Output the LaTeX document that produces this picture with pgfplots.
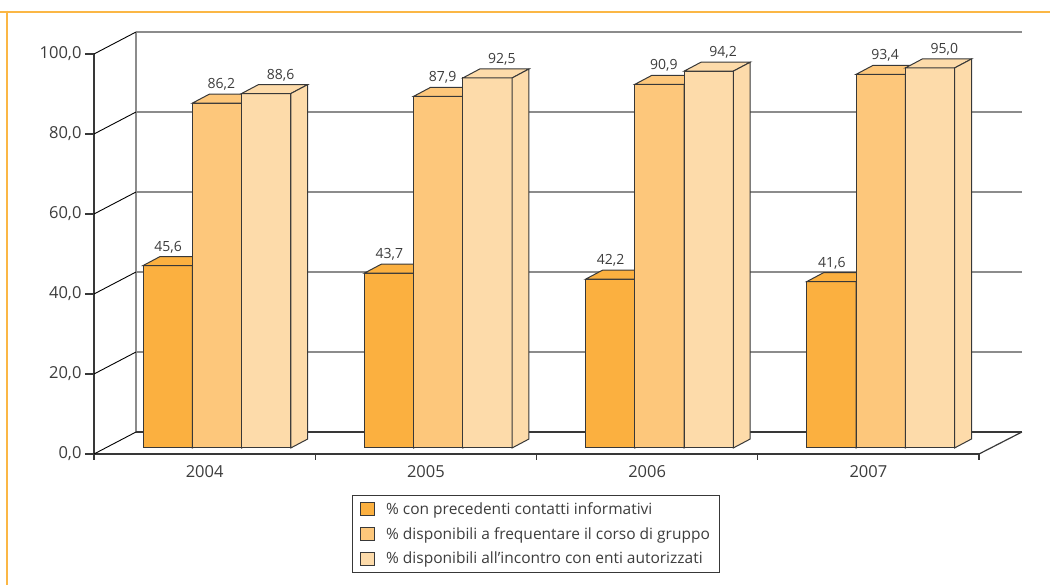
\documentclass[border=0pt]{standalone}
\usepackage{pgfplots}
\pgfplotsset{compat=1.18}
\usepackage{fontspec}
\setmainfont{Open Sans}
\definecolor{bar0}{HTML}{FBB040}
\definecolor{bar1}{HTML}{FDC77B}
\definecolor{bar2}{HTML}{FDDBAA}
\definecolor{edge}{HTML}{383838}
\definecolor{framec}{HTML}{FBB745}
\definecolor{txt}{HTML}{3C3C3C}
\definecolor{gridc}{HTML}{8C8C8C}

% #1 group index, #2 series index, #3 value, #4 label x offset
\newcommand{\tdbar}[4]{%
 \pgfmathsetmacro\xa{#1+0.2215+0.2226*#2}%
 \pgfmathsetmacro\xb{\xa+0.2226}%
 \pgfmathsetmacro\xc{\xb+0.0768}%
 \pgfmathsetmacro\xd{\xa+0.0768}%
 \pgfmathsetmacro\yb{#3+1.5}%
 \pgfmathsetmacro\yc{#3+3.75}%
 \pgfmathsetmacro\lx{\xa+0.1113+0.0384+#4}%
 \addplot[forget plot, fill=bar#2, draw=edge, line width=1pt] coordinates {(\xa,1.5) (\xb,1.5) (\xb,\yb) (\xa,\yb)} -- cycle;
 \addplot[forget plot, fill=bar#2, draw=edge, line width=1pt] coordinates {(\xa,\yb) (\xb,\yb) (\xc,\yc) (\xd,\yc)} -- cycle;
 \addplot[forget plot, fill=bar#2, draw=edge, line width=1pt] coordinates {(\xb,1.5) (\xc,3.75) (\xc,\yc) (\xb,\yb)} -- cycle;
 \addplot[forget plot, draw=none, mark=none, point meta=explicit,
   nodes near coords={\pgfmathprintnumber[fixed,fixed zerofill,precision=1,use comma,assume math mode=true]{\pgfplotspointmeta}},
   every node near coord/.style={anchor=base, yshift=5.5pt, inner sep=0pt, text=txt, font=\fontsize{14}{16}\selectfont}]
   coordinates {(\lx,\yc) [#3]};
}

\begin{document}
\begin{tikzpicture}
\useasboundingbox (-94pt,-131pt) rectangle (956pt,454pt);
\draw[framec, line width=2.5pt] (-94pt,442pt) -- (956pt,442pt);
\draw[framec, line width=2.5pt] (-87pt,443.25pt) -- (-87pt,-131pt);
\begin{axis}[
 at={(0pt,0pt)}, anchor=south west,
 scale only axis, width=885pt, height=400pt,
 xmin=0, xmax=4, ymin=0, ymax=100,
 clip=false,
 axis lines*=left,
 axis line style={draw=edge, line width=1.5pt},
 ytick={0,20,...,100},
 yticklabel style={/pgf/number format/.cd, fixed, fixed zerofill, precision=1, use comma, assume math mode=true},
 ticklabel style={font=\fontsize{16.5}{19}\selectfont, text=txt},
 xtick={0.5,1.5,2.5,3.5}, xticklabels={2004,2005,2006,2007},
 xticklabel style={yshift=1pt},
 minor xtick={0,1,2,3,4},
 tick align=outside,
 major tick length=9pt, minor tick length=6pt,
 every major x tick/.append style={draw=none},
 tick style={draw=edge, line width=1.2pt},
 legend style={at={(axis description cs:0.2915,-0.1025)}, anchor=north west,
   draw=edge, line width=0.8pt, font=\fontsize{15.5}{18}\selectfont, text=txt,
   row sep=7.5pt, inner xsep=8pt, inner ysep=5pt},
 legend cell align=left,
 legend image code/.code={\draw[#1, line width=0.8pt] (0pt,-6.5pt) rectangle (14pt,6.5pt); \path (23pt,0pt);},
]
\addlegendimage{fill=bar0, draw=edge}
\addlegendentry{\% con precedenti contatti informativi}
\addlegendimage{fill=bar1, draw=edge}
\addlegendentry{\% disponibili a frequentare il corso di gruppo}
\addlegendimage{fill=bar2, draw=edge}
\addlegendentry{\% disponibili all’incontro con enti autorizzati}

% back wall and floor
\addplot[forget plot, gridc, line width=1.5pt] coordinates {(0.19,5.5) (0.19,105.5)};
\addplot[forget plot, gridc, line width=1.5pt] coordinates {(0.19,25.5) (4.194,25.5)};
\addplot[forget plot, gridc, line width=1.5pt] coordinates {(0.19,45.5) (4.194,45.5)};
\addplot[forget plot, gridc, line width=1.5pt] coordinates {(0.19,65.5) (4.194,65.5)};
\addplot[forget plot, gridc, line width=1.5pt] coordinates {(0.19,85.5) (4.194,85.5)};
\addplot[forget plot, gridc, line width=1.5pt] coordinates {(0.19,105.5) (4.194,105.5)};
\addplot[forget plot, edge, line width=1.5pt] coordinates {(0.19,5.5) (4.194,5.5)};
\addplot[forget plot, edge, line width=1.2pt] coordinates {(4,0) (4.194,5.5)};
\addplot[forget plot, black, line width=0.9pt] coordinates {(0,0) (0.19,5.5)};
\addplot[forget plot, black, line width=0.9pt] coordinates {(0,20) (0.19,25.5)};
\addplot[forget plot, black, line width=0.9pt] coordinates {(0,40) (0.19,45.5)};
\addplot[forget plot, black, line width=0.9pt] coordinates {(0,60) (0.19,65.5)};
\addplot[forget plot, black, line width=0.9pt] coordinates {(0,80) (0.19,85.5)};
\addplot[forget plot, black, line width=0.9pt] coordinates {(0,100) (0.19,105.5)};

% bars: group, series, value, label offset
\tdbar{0}{0}{45.6}{-0.036}
\tdbar{0}{1}{86.2}{-0.018}
\tdbar{0}{2}{88.6}{0.027}
\tdbar{1}{0}{43.7}{-0.036}
\tdbar{1}{1}{87.9}{-0.018}
\tdbar{1}{2}{92.5}{0.027}
\tdbar{2}{0}{42.2}{-0.036}
\tdbar{2}{1}{90.9}{-0.018}
\tdbar{2}{2}{94.2}{0.027}
\tdbar{3}{0}{41.6}{-0.036}
\tdbar{3}{1}{93.4}{-0.018}
\tdbar{3}{2}{95.0}{0.027}
\end{axis}
\end{tikzpicture}
\end{document}
